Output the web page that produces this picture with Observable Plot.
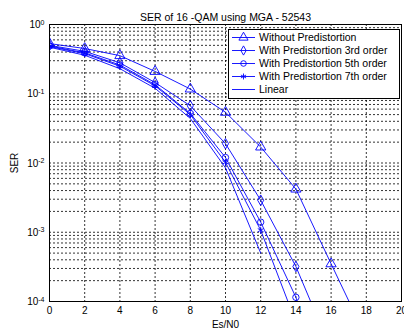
<!DOCTYPE html>
<html><head><meta charset="utf-8">
<script src="https://cdn.jsdelivr.net/npm/d3@7"></script>
<script src="https://cdn.jsdelivr.net/npm/@observablehq/plot@0.6"></script>
<style>
body{margin:0;background:#fff}
svg{font-family:"Liberation Sans",Arial,sans-serif}
</style>
</head><body><div id="chart"></div>
<script>
// ---- data ----
const esn0 = [0, 2, 4, 6, 8, 10, 12, 14, 16, 18];
const serWithout = [0.53, 0.45, 0.355, 0.21, 0.117, 0.054, 0.017, 0.0042, 0.00035, 0.00003];
const serPD3 = [0.5, 0.41, 0.28, 0.145, 0.067, 0.019, 0.0029, 0.00032, 0.00002];
const serPD5 = [0.49, 0.39, 0.26, 0.135, 0.052, 0.012, 0.0014, 0.000115, 0.000004];
const serPD7 = [0.48, 0.38, 0.25, 0.13, 0.05, 0.0102, 0.00107, 0.00005];
const serLinear = [0.47, 0.36, 0.23, 0.12, 0.044, 0.0085, 0.0005];
const seriesNames = ["Without Predistortion", "With Predistortion 3rd order", "With Predistortion 5th order", "With Predistortion 7th order", "Linear"];
const seriesSymbols = ["triangle", "diamond", "circle", "asterisk", null];
const xTicks = [0, 2, 4, 6, 8, 10, 12, 14, 16, 18, 20];
const yDecades = [1e-4, 1e-3, 1e-2, 1e-1, 1];
const titleText = "SER of 16 -QAM using MGA - 52543";

const allSeries = [serWithout, serPD3, serPD5, serPD7, serLinear];
const rows = [];
allSeries.forEach((vals, i) => vals.forEach((v, j) => rows.push({x: esn0[j], y: v, s: seriesNames[i], sym: seriesSymbols[i]})));
const minorGrid = [];
for (let e = -4; e < 0; e++) for (let m = 2; m <= 9; m++) minorGrid.push(m * Math.pow(10, e));

const blue = "#0000ff";
const gridStyle = {stroke: "#000", strokeDasharray: "2,2", strokeWidth: 1, strokeOpacity: 0.8};

const marks = [
  Plot.ruleY(minorGrid, {y: d => d, ...gridStyle}),
  Plot.ruleY(yDecades, {y: d => d, ...gridStyle}),
  Plot.ruleX(xTicks, {x: d => d, ...gridStyle}),
  Plot.line(rows, {x: "x", y: "y", z: "s", stroke: blue, strokeWidth: 0.9, clip: true}),
];
seriesNames.forEach((name, i) => {
  if (!seriesSymbols[i]) return;
  const sub = rows.filter(r => r.s === name);
  marks.push(Plot.dot(sub, {x: "x", y: "y", symbol: seriesSymbols[i], r: seriesSymbols[i] === "triangle" ? 3.8 : 3.2, stroke: blue, fill: "none", strokeWidth: 0.9, clip: true}));
});
marks.push(
  Plot.frame({stroke: "#000"}),
  Plot.axisX({ticks: xTicks, tickSize: 0, tickPadding: 5, fontSize: 10, label: "Es/N0", labelAnchor: "center", labelArrow: "none", labelOffset: 26}),
  Plot.axisY({ticks: yDecades, tickSize: 0, tickPadding: 5, fontSize: 10, tickFormat: d => String(Math.round(Math.log10(d))), label: "SER", labelAnchor: "center", labelArrow: "none", labelOffset: 39}),
  Plot.text([titleText], {frameAnchor: "top", dy: -11, fontSize: 10.5, fill: "#000"})
);

const chart = Plot.plot({
  width: 404, height: 331,
  marginLeft: 49, marginRight: 3, marginTop: 24, marginBottom: 30,
  style: {fontSize: "10px", fontFamily: '"Liberation Sans", Arial, sans-serif', background: "#fff", color: "#000"},
  x: {domain: [0, 20]},
  y: {type: "log", domain: [1e-4, 1]},
  marks
});
document.getElementById("chart").appendChild(chart);

// superscript exponents on y tick labels
const svg = d3.select(chart);
svg.selectAll("g[aria-label='y-axis tick label'] text").each(function() {
  const t = d3.select(this);
  const exp = t.text();
  t.text("10").attr("dy", "0.05em");
  t.append("tspan").attr("dy", "-0.5em").attr("font-size", "7px").text(exp);
});

// legend
const lg = svg.append("g").attr("class", "legend-box").style("font-size", "10.5px").style("text-anchor", "start");
const lx = 228, ly = 29, lw = 171, lh = 69;
lg.append("rect").attr("x", lx + 0.5).attr("y", ly + 0.5).attr("width", lw).attr("height", lh)
  .style("fill", "#ffffff").style("stroke", "#000000").style("stroke-width", "1px");
const symMap = {triangle: d3.symbolTriangle, diamond: d3.symbolDiamond, circle: d3.symbolCircle, asterisk: d3.symbolAsterisk};
seriesNames.forEach((name, i) => {
  const cy = ly + 8.5 + i * 13;
  lg.append("line").attr("x1", lx + 4).attr("x2", lx + 27).attr("y1", cy).attr("y2", cy)
    .style("stroke", blue).style("stroke-width", "0.9px");
  if (seriesSymbols[i]) {
    const r = seriesSymbols[i] === "triangle" ? 3.4 : 2.8;
    lg.append("path").attr("d", d3.symbol(symMap[seriesSymbols[i]], r * r * Math.PI)())
      .attr("transform", `translate(${lx + 15.5},${cy})`)
      .style("fill", "none").style("stroke", blue).style("stroke-width", "0.9px");
  }
  lg.append("text").attr("x", lx + 31).attr("y", cy).attr("dy", "0.35em")
    .style("fill", "#000").style("text-anchor", "start").text(name);
});
</script>
</body></html>
